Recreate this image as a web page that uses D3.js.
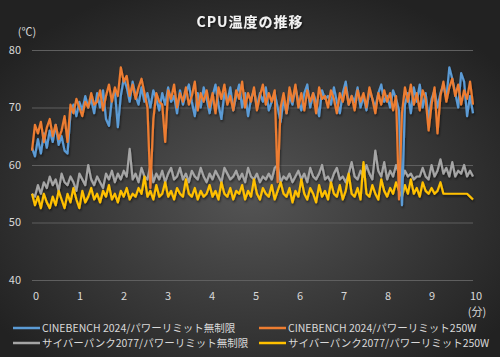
<!DOCTYPE html>
<html><head><meta charset="utf-8">
<script src="https://cdn.jsdelivr.net/npm/d3@7"></script>
<style>body{margin:0;background:#222}svg{display:block}</style>
</head><body>
<script>
const title = "CPU温度の推移";
const seriesNames = ["CINEBENCH 2024/パワーリミット無制限","CINEBENCH 2024/パワーリミット250W","サイバーパンク2077/パワーリミット無制限","サイバーパンク2077/パワーリミット250W"];
const seriesColors = ["#5B9BD5","#ED7D31","#A5A5A5","#FFC000"];
const yTicks = [40,50,60,70,80];
const xTicks = [0,1,2,3,4,5,6,7,8,9,10];

const cbUnlimited = [63.0,61.5,64.5,62.0,65.5,63.0,66.0,64.0,67.0,63.5,
65.0,62.5,62.0,69.0,70.5,68.5,71.0,69.5,72.0,70.0,
71.5,69.0,72.5,70.0,73.0,68.0,66.8,71.5,73.0,66.6,
72.0,75.0,73.5,71.0,74.5,72.0,70.5,73.5,71.0,72.5,
70.0,73.0,71.5,69.5,72.5,70.5,73.5,71.0,72.0,69.0,
73.0,70.5,72.5,74.0,71.0,68.5,72.5,70.0,73.5,71.5,
69.0,72.0,74.0,70.5,68.0,72.5,71.0,73.5,69.5,72.0,
74.0,70.0,72.5,68.5,71.5,73.0,70.0,72.5,71.0,73.5,
69.5,71.0,72.5,70.0,67.5,71.5,69.0,72.0,70.5,73.5,
71.0,69.5,72.5,74.0,70.0,72.5,71.0,68.5,73.0,71.5,
72.0,70.5,73.5,71.0,69.0,72.5,74.5,70.5,72.0,71.0,
73.5,70.0,72.0,69.5,73.0,71.5,70.0,72.5,74.0,71.0,
72.0,70.0,73.0,71.5,69.5,53.0,70.5,72.5,69.0,73.5,
71.0,74.0,70.0,72.5,68.0,71.5,73.0,70.0,72.5,74.0,
71.5,77.0,75.0,72.5,70.0,76.0,74.5,68.5,72.0,69.0];

const cb250 = [62.5,67.0,65.5,67.5,64.0,66.5,68.0,65.0,67.0,64.5,
66.0,68.5,64.0,70.5,69.0,71.5,70.0,68.5,71.0,70.0,
72.5,70.5,71.0,73.0,69.5,72.0,74.0,71.0,73.5,72.0,
77.0,74.5,75.5,72.0,74.0,71.5,73.5,75.0,72.5,70.0,
56.0,68.0,72.5,71.0,70.5,64.0,73.0,71.5,74.0,70.0,
72.5,71.0,73.5,70.5,72.0,74.5,69.5,72.5,71.0,73.0,
70.0,72.5,69.0,73.5,71.5,74.0,70.5,72.0,69.5,73.0,
71.5,74.5,70.0,72.5,71.0,73.5,69.5,72.0,74.0,70.5,
72.5,71.0,73.0,57.0,70.0,72.5,69.0,73.5,71.0,74.0,
70.0,72.5,69.5,73.0,71.0,72.5,69.0,73.5,71.5,72.0,
70.0,73.0,71.5,69.0,72.5,71.0,73.5,70.5,72.0,69.5,
73.0,71.0,72.5,70.0,73.5,71.5,69.0,72.5,70.5,73.0,
71.0,72.5,69.5,72.0,54.0,69.0,73.5,71.0,74.0,70.5,
72.5,69.5,73.0,71.5,66.0,70.5,73.5,65.5,72.0,74.5,
71.0,73.5,75.0,72.0,74.0,70.5,73.0,71.5,74.5,70.5];

const cpUnlimited = [55.0,54.5,56.5,55.0,57.0,56.0,58.0,56.5,57.5,55.5,
58.5,57.0,56.5,58.0,57.0,55.5,58.5,57.5,56.5,60.0,
57.5,56.5,58.0,57.0,56.0,58.5,57.5,59.0,57.0,58.5,
57.5,59.0,58.0,62.8,57.5,58.5,57.0,59.5,58.0,57.5,
60.0,57.0,58.5,57.5,59.0,57.0,58.5,59.5,57.5,58.0,
59.5,57.5,58.5,57.0,59.0,58.0,57.5,59.5,58.0,57.0,
58.5,57.5,59.0,58.0,57.0,59.5,58.5,57.5,58.0,59.0,
57.5,58.5,57.0,59.5,58.0,57.5,58.5,57.0,58.0,57.5,
58.5,57.5,59.5,60.0,57.0,58.0,57.5,58.5,57.0,58.0,
59.0,57.5,58.5,57.0,59.5,58.0,57.5,58.5,60.0,57.5,
58.0,57.0,58.5,59.5,57.5,58.0,57.0,58.5,60.5,58.0,
57.5,59.0,58.0,60.0,58.5,57.5,62.5,59.0,58.0,60.5,
57.5,59.0,58.0,60.0,58.5,57.5,59.0,58.0,58.5,57.5,
58.0,58.0,59.5,58.0,57.5,60.0,58.0,59.0,61.0,58.5,
59.5,58.0,60.5,58.0,59.0,58.5,60.0,58.0,59.0,58.0];

const cp250 = [55.0,53.0,54.5,52.5,55.0,53.5,52.5,54.5,53.0,55.5,
54.0,52.5,55.0,53.5,56.0,54.0,52.5,55.5,53.5,54.5,
56.0,54.0,55.0,53.5,55.5,54.5,56.5,54.0,55.0,53.5,
55.5,54.5,56.0,54.0,55.0,54.5,56.0,55.0,58.0,54.5,
55.5,54.0,56.5,54.5,55.0,57.0,54.5,55.5,54.0,56.0,
55.0,54.5,57.5,55.0,54.5,56.0,54.0,55.5,54.5,55.0,
56.5,54.5,55.5,54.0,57.0,55.0,54.5,56.0,54.0,55.5,
55.0,56.5,54.0,55.5,54.5,57.5,55.0,54.0,56.0,55.0,
54.5,56.5,54.0,55.5,57.0,55.0,54.5,56.0,53.5,55.5,
54.5,57.5,55.0,54.0,56.0,55.0,53.5,56.5,54.5,55.5,
54.0,57.0,55.0,54.5,56.5,54.0,55.5,58.5,55.0,54.5,
56.0,54.0,60.5,55.0,54.5,56.5,55.0,54.0,57.5,55.5,
54.5,56.0,55.0,57.0,55.5,54.5,56.5,55.0,57.5,55.0,
56.0,54.5,57.0,55.5,55.0,56.0,55.0,55.5,57.0,55.0,
55.0,55.0,55.0,55.0,55.0,55.0,55.0,55.0,54.5,54.0];

const allSeries = [cbUnlimited, cb250, cpUnlimited, cp250];
// draw order: back to front
const drawOrder = [2,3,0,1];

const W = 500, H = 357;
const svg = d3.select("body").append("svg").attr("width", W).attr("height", H)
  .style("font-family", "'Noto Sans CJK JP','Noto Sans',sans-serif");

const defs = svg.append("defs");
const rg = defs.append("radialGradient").attr("id","bg")
  .attr("cx","50%").attr("cy","55%").attr("r","62%");
rg.append("stop").attr("offset","0%").attr("stop-color","#545454");
rg.append("stop").attr("offset","100%").attr("stop-color","#222222");
const flt = defs.append("filter").attr("id","sh").attr("x","-10%").attr("y","-10%").attr("width","120%").attr("height","130%");
flt.append("feDropShadow").attr("dx",0.8).attr("dy",1.8).attr("stdDeviation",1.0)
  .attr("flood-color","#000").attr("flood-opacity",0.55);
const tflt = defs.append("filter").attr("id","tsh");
tflt.append("feDropShadow").attr("dx",1).attr("dy",1).attr("stdDeviation",0.8)
  .attr("flood-color","#000").attr("flood-opacity",0.7);

svg.append("rect").attr("width",W).attr("height",H).attr("fill","url(#bg)");

const plotL = 32, plotR = 473, plotT = 50, plotB = 280;
const y = d3.scaleLinear().domain([40,80]).range([plotB, plotT]);
const xi = d3.scaleLinear().domain([0, cb250.length-1]).range([plotL, plotR]);
const xLab = d3.scaleLinear().domain([0,10]).range([36,476]);

// grid
svg.append("g").selectAll("line").data(yTicks).join("line")
  .attr("x1", plotL).attr("x2", plotR)
  .attr("y1", d=>y(d)+0.5).attr("y2", d=>y(d)+0.5)
  .attr("stroke","#5f5f5f").attr("stroke-width",1);

// y labels
svg.append("g").selectAll("text").data(yTicks).join("text")
  .attr("x", 21).attr("y", d=>y(d)).attr("dy","0.35em")
  .attr("text-anchor","end").attr("fill","#d9d9d9").attr("font-size",11)
  .text(d=>d);
svg.append("text").attr("x",27).attr("y",36).attr("text-anchor","middle")
  .attr("fill","#d9d9d9").attr("font-size",11).text("(℃)");

// x labels
svg.append("g").selectAll("text").data(xTicks).join("text")
  .attr("x", d=>xLab(d)).attr("y", 296).attr("dy","0.35em")
  .attr("text-anchor","middle").attr("fill","#d9d9d9").attr("font-size",11)
  .text(d=>d);
svg.append("text").attr("x",477).attr("y",312).attr("dy","0.35em").attr("text-anchor","middle")
  .attr("fill","#d9d9d9").attr("font-size",11).text("(分)");

// title
svg.append("text").attr("x",250).attr("y",22).attr("dy","0.35em").attr("text-anchor","middle")
  .attr("fill","#f2f2f2").attr("font-size",14).attr("font-weight","bold")
  .attr("letter-spacing",1).attr("filter","url(#tsh)").text(title);

// lines
const line = d3.line().x((d,i)=>xi(i)).y(d=>y(d));
const lg = svg.append("g").attr("filter","url(#sh)");
drawOrder.forEach(k=>{
  lg.append("path").datum(allSeries[k]).attr("d", line)
    .attr("fill","none").attr("stroke", seriesColors[k]).attr("stroke-width",2.2)
    .attr("stroke-linejoin","round");
});

// legend
const legPos = [[13,328],[259,328],[13,343],[259,343]];
seriesNames.forEach((n,k)=>{
  const [lx,ly] = legPos[k];
  svg.append("line").attr("x1",lx).attr("x2",lx+27).attr("y1",ly).attr("y2",ly)
    .attr("stroke",seriesColors[k]).attr("stroke-width",2.5);
  svg.append("text").attr("x",lx+29).attr("y",ly).attr("dy","0.35em")
    .attr("fill","#d9d9d9").attr("font-size",10.5).text(n);
});
</script>
</body></html>
